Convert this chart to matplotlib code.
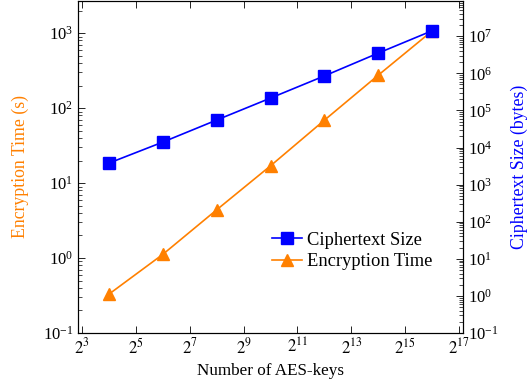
import numpy as np
import matplotlib
matplotlib.use("Agg")
import matplotlib.pyplot as plt
from matplotlib.ticker import LogLocator, NullFormatter, FixedLocator, FuncFormatter

plt.rcParams['font.family'] = ['Liberation Serif', 'DejaVu Serif']
plt.rcParams['mathtext.fontset'] = 'stix'
plt.rcParams['font.size'] = 11

# number of keys (powers of two)
key_exponents = [4, 6, 8, 10, 12, 14, 16]
enc_time = [0.33, 1.12, 4.4, 17, 69, 275, 1070]           # seconds
cipher_size = [3.8e3, 1.4e4, 5.5e4, 2.15e5, 8.5e5, 3.5e6, 1.4e7]  # bytes

x_tick_exps = [3, 5, 7, 9, 11, 13, 15, 17]

ORANGE = (1.0, 0.5, 0.0)
BLUE = (0.0, 0.0, 1.0)

keys = [2 ** e for e in key_exponents]

fig = plt.figure(figsize=(5.27, 3.87), dpi=100)
ax = fig.add_axes([0.148, 0.1395, 0.7306, 0.858])
ax2 = ax.twinx()

ax.set_xscale('log', base=2)
ax.set_yscale('log')
ax2.set_yscale('log')

l_time, = ax.plot(keys, enc_time, '-^', color=ORANGE, lw=1.2, markersize=9,
                  label='Encryption Time')
l_size, = ax2.plot(keys, cipher_size, '-s', color=BLUE, lw=1.2, markersize=9,
                   label='Ciphertext Size')

ax.set_xlim(2 ** 2.85, 2 ** 17.15)
ax.set_ylim(0.1, 10 ** 3.43)
ax2.set_ylim(0.1, 10 ** 7.95)

ax.xaxis.set_major_locator(FixedLocator([2 ** e for e in x_tick_exps]))
ax.xaxis.set_minor_locator(FixedLocator([]))
ax.xaxis.set_major_formatter(FuncFormatter(lambda v, p: r'$2^{%d}$' % round(np.log2(v))))

for a in (ax, ax2):
    a.yaxis.set_major_locator(LogLocator(base=10, numticks=20))
    a.yaxis.set_minor_locator(LogLocator(base=10, subs=np.arange(2, 10), numticks=20))
    a.yaxis.set_minor_formatter(NullFormatter())

ax.tick_params(axis='x', which='both', direction='in', top=True, length=5, width=0.6)
ax.tick_params(axis='y', which='major', direction='in', right=False, length=5, width=0.6)
ax.tick_params(axis='y', which='minor', direction='in', right=False, length=3, width=0.5)
ax2.tick_params(axis='y', which='major', direction='in', length=5, width=0.6)
ax2.tick_params(axis='y', which='minor', direction='in', length=3, width=0.5)
ax.tick_params(labelsize=12)
ax2.tick_params(labelsize=12)

for a in (ax, ax2):
    for s in a.spines.values():
        s.set_linewidth(0.8)

ax.set_xlabel('Number of AES-keys', fontsize=12.3)
ax.set_ylabel('Encryption Time (s)', color=ORANGE, fontsize=12.8, labelpad=10)
ax2.set_ylabel('Ciphertext Size (bytes)', color=BLUE, fontsize=12.8)
ax2.yaxis.set_label_coords(1.125, 0.5)

ax2.legend(handles=[l_size, l_time], loc='lower right', bbox_to_anchor=(0.955, 0.15),
           frameon=False, fontsize=13.3, handlelength=1.6, borderpad=0.2,
           labelspacing=0.25, handletextpad=0.3)

fig.savefig('out.png', dpi=100)
